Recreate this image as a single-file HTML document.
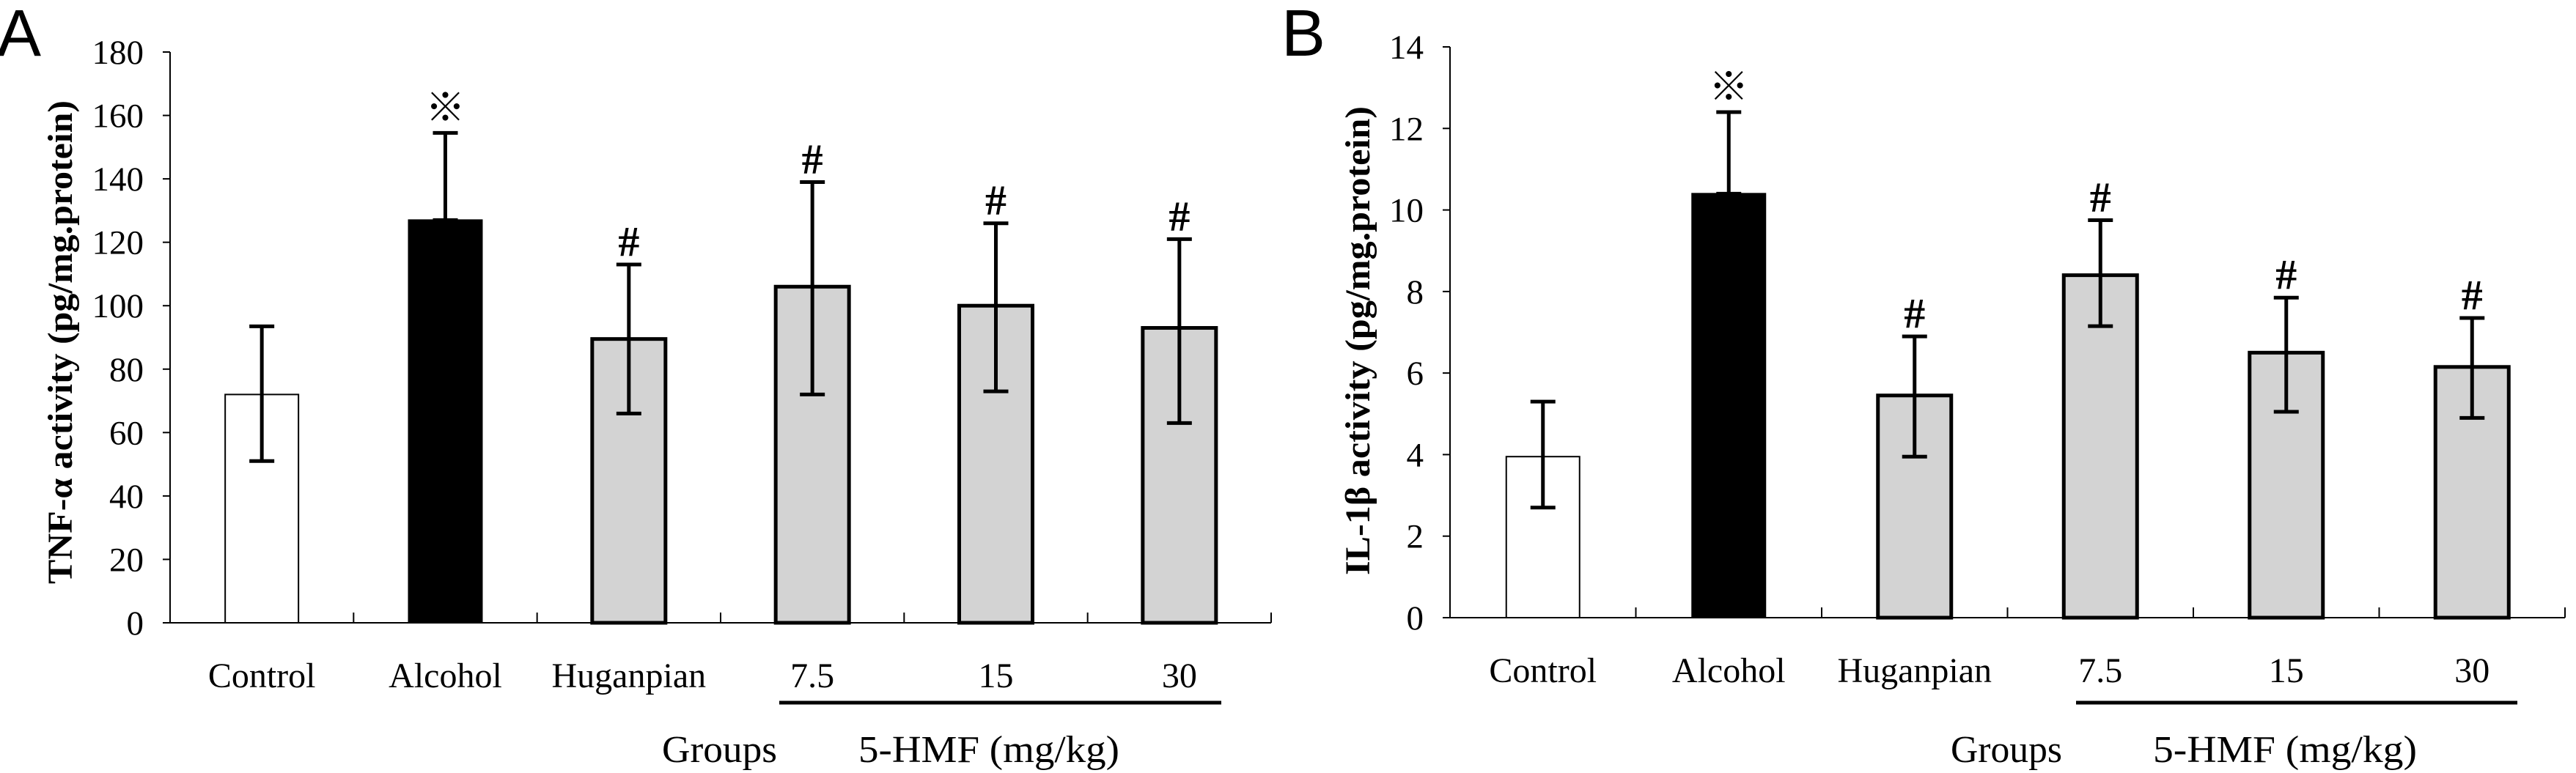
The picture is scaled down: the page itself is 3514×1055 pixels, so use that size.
<!DOCTYPE html>
<html><head><meta charset="utf-8"><style>
html,body{margin:0;padding:0;background:#fff;width:3514px;height:1055px;overflow:hidden}
svg text{font-family:"Liberation Serif",serif;fill:#000}
</style></head><body>
<svg id="fig" width="3514" height="1055" viewBox="0 0 3514 1055" xmlns="http://www.w3.org/2000/svg"></svg>
<script>
const categories = ["Control","Alcohol","Huganpian","7.5","15","30"];
const tnfValues = [72,127,89.5,106,100,93];
const tnfLow = [51,127,66,72,73,63];
const tnfHigh = [93.5,154.5,113,139,126,121];
const tnfTicks = [0,20,40,60,80,100,120,140,160,180];
const ilValues = [3.95,10.4,5.45,8.4,6.5,6.15];
const ilLow = [2.7,10.4,3.95,7.15,5.05,4.9];
const ilHigh = [5.3,12.4,6.9,9.75,7.85,7.35];
const ilTicks = [0,2,4,6,8,10,12,14];
const marks = ["","※","#","#","#","#"];

const svg = document.getElementById('fig');
const NS = "http://www.w3.org/2000/svg";
function el(tag, attrs, parent){const e=document.createElementNS(NS,tag);for(const k in attrs)e.setAttribute(k,attrs[k]);(parent||svg).appendChild(e);return e;}

function panel(cfg){
  const g = el('g',{});
  
  
  const {x0,x1,y0,yTop,vmax} = cfg;
  const cw = (x1-x0)/categories.length;
  const xs = i => x0 + cw*(i+0.5);
  const ys = v => y0 - (v/vmax)*(y0-yTop);
  const ya = el('line',{x1:x0,y1:ys(vmax),x2:x0,y2:y0,stroke:'#000','stroke-width':2},g);
  
  
  cfg.ticks.forEach(t=>{
    el('line',{x1:x0-10,y1:ys(t),x2:x0,y2:ys(t),stroke:'#000','stroke-width':2},g);
    const tl = el('text',{x:x0-36,y:ys(t)+16,'text-anchor':'end','font-size':47},g);
    tl.textContent = t;
    
    
  });
  const xa = el('line',{x1:x0,y1:y0,x2:x1,y2:y0,stroke:'#000','stroke-width':2},g);
  
  
  for(let i=1;i<=categories.length;i++){
    el('line',{x1:x0+cw*i,y1:y0-14,x2:x0+cw*i,y2:y0,stroke:'#000','stroke-width':2},g);
  }
  const bw = 100;
  categories.forEach((c,i)=>{
    const v = cfg.values[i];
    const fill = i===0?'#fff':(i===1?'#000':'#d3d3d3');
    const sw = i===0?2:(i===1?2:5);
    const r = el('rect',{x:xs(i)-bw/2,y:ys(v),width:bw,height:y0-ys(v),fill:fill,stroke:'#000','stroke-width':sw},g);
    
    
    const lo = cfg.low[i], hi = cfg.high[i];
    const eb = el('path',{d:`M${xs(i)},${ys(lo)}V${ys(hi)}M${xs(i)-17},${ys(hi)}H${xs(i)+17}M${xs(i)-17},${ys(lo)}H${xs(i)+17}`,stroke:'#000','stroke-width':5,fill:'none'},g);
    
    
    if(marks[i]){
      const isHash = marks[i]==='#';
      const m = el('text',{x:xs(i),y:ys(hi)-(isHash?12:16),'text-anchor':'middle','font-size':isHash?58:54,'font-weight':'bold'},g);
      if(!isHash){m.setAttribute('style','font-family:"Noto Sans CJK SC",sans-serif;font-weight:normal');}
      m.textContent = marks[i];
      
      
    }
    const cl = el('text',{x:xs(i),y:y0+88,'text-anchor':'middle','font-size':48},g);
    cl.textContent = c;
    
    
  });
  const ul = el('line',{x1:cfg.ulx1,y1:959,x2:cfg.ulx2,y2:959,stroke:'#000','stroke-width':5},g);
  
  
  const gr = el('text',{x:cfg.grx,y:1040,'font-size':52,textLength:cfg.grw,lengthAdjust:'spacingAndGlyphs'},g);
  gr.textContent='Groups';
  
  
  const hm = el('text',{x:cfg.hmx,y:1040,'font-size':52,textLength:cfg.hmw,lengthAdjust:'spacingAndGlyphs'},g);
  hm.textContent='5-HMF (mg/kg)';
  
  
  const yt = el('text',{x:0,y:0,'font-size':48,'font-weight':'bold','text-anchor':'middle',textLength:cfg.ytLen,lengthAdjust:'spacingAndGlyphs',transform:`translate(${cfg.ytx},${cfg.ytc}) rotate(-90)`},g);
  yt.textContent = cfg.ytitle;
  
  
  const pl = el('text',{x:cfg.plx,y:76,'font-size':90,style:'font-family:"Liberation Sans",sans-serif'},g);
  pl.textContent = cfg.plabel;
  
  
}
panel({name:'panel-a-tnf',x0:232,x1:1734,y0:850,yTop:71,vmax:180,ticks:tnfTicks,values:tnfValues,low:tnfLow,high:tnfHigh,
  ulx1:1063,ulx2:1666,grx:903,grw:157,hmx:1171,hmw:356,ytx:98,ytc:467,ytLen:660,ytitle:'TNF-α activity (pg/mg.protein)',plx:-4,plabel:'A'});
panel({name:'panel-b-il1b',x0:1978,x1:3499,y0:843,yTop:64,vmax:14,ticks:ilTicks,values:ilValues,low:ilLow,high:ilHigh,
  ulx1:2832,ulx2:3434,grx:2661,grw:152,hmx:2937,hmw:360,ytx:1868,ytc:465,ytLen:640,ytitle:'IL-1β activity (pg/mg.protein)',plx:1748,plabel:'B'});
</script>
</body></html>
